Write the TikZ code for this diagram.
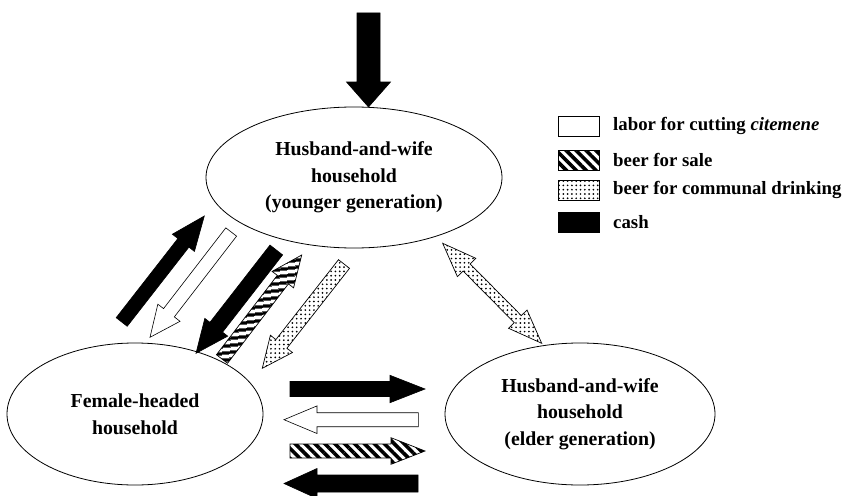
\documentclass[tikz,border=0pt]{standalone}
\usepackage{fontspec}
\setmainfont{Liberation Serif}
\usetikzlibrary{calc,shapes.geometric,patterns.meta}

% block arrow: #1 style, #2 tail, #3 tip, #4 shaft half width, #5 head half width, #6 head length
\newcommand\blockarr[6]{%
  \coordinate (#2#3m) at ($(#3)!#6!(#2)$);
  \path[#1] ($(#2)!#4!90:(#3)$) -- ($(#2#3m)!#4!90:(#3)$) -- ($(#2#3m)!#5!90:(#3)$) -- (#3)
    -- ($(#2#3m)!#5!-90:(#3)$) -- ($(#2#3m)!#4!-90:(#3)$) -- ($(#2)!#4!-90:(#3)$) -- cycle;}
% double block arrow
\newcommand\dblarr[6]{%
  \coordinate (#2#3m) at ($(#3)!#6!(#2)$);
  \coordinate (#2#3n) at ($(#2)!#6!(#3)$);
  \path[#1] (#2) -- ($(#2#3n)!#5!90:(#3)$) -- ($(#2#3n)!#4!90:(#3)$) -- ($(#2#3m)!#4!90:(#3)$)
    -- ($(#2#3m)!#5!90:(#3)$) -- (#3) -- ($(#2#3m)!#5!-90:(#3)$) -- ($(#2#3m)!#4!-90:(#3)$)
    -- ($(#2#3n)!#4!-90:(#3)$) -- ($(#2#3n)!#5!-90:(#3)$) -- cycle;}

\tikzset{
  house/.style={draw, ellipse, line width=0.8pt, inner sep=0pt, align=center,
    font=\fontsize{19.8}{26.5}\selectfont\bfseries},
  cash/.style={draw=black, fill=black, line width=0.6pt},
  labor/.style={draw=black, fill=white, line width=0.6pt},
  sale/.style={draw=black, line width=0.7pt, preaction={fill=white},
    pattern={Lines[angle=-45,distance=7pt,line width=3.6pt]}},
  salediag/.style={draw=black, line width=0.7pt, preaction={fill=white},
    pattern={Lines[angle=7.5,distance=6.5pt,line width=3.4pt]}},
  drink/.style={draw=black, line width=0.7pt, preaction={fill=white},
    pattern={Dots[distance=4.3pt,radius=0.95pt]}},
  legbox/.style={minimum width=41pt, minimum height=20pt, inner sep=0pt},
  legtext/.style={anchor=west, inner sep=0pt, font=\fontsize{18.8}{22}\selectfont\bfseries}
}

\begin{document}
\begin{tikzpicture}[x=1pt,y=-1pt]
\useasboundingbox (0,0) rectangle (845,495);
\fill[white] (0,0) rectangle (845,495);

% households
\node[house, minimum width=296pt, minimum height=141pt] (young) at (354,177.5)
  {Husband-and-wife\\household\\(younger generation)};
\node[house, minimum width=256pt, minimum height=142pt] (female) at (135,414)
  {Female-headed\\household};
\node[house, minimum width=270pt, minimum height=142pt] (elder) at (580,414)
  {Husband-and-wife\\household\\(elder generation)};

% arrow end points
\coordinate (t0) at (368.5,13);   \coordinate (t1) at (368.5,107);
\coordinate (a1t) at (121.7,322); \coordinate (a1h) at (204.3,216);
\coordinate (a2t) at (231.2,232); \coordinate (a2h) at (150,337.3);
\coordinate (a3t) at (276.3,250); \coordinate (a3h) at (196,353.3);
\coordinate (a4t) at (222,359);   \coordinate (a4h) at (301.7,255);
\coordinate (a5t) at (344,264);   \coordinate (a5h) at (262.3,368.3);
\coordinate (a6t) at (442.7,243.3); \coordinate (a6h) at (541.7,343.3);
\coordinate (h1t) at (290,389);   \coordinate (h1h) at (425,389);
\coordinate (h2t) at (418.3,419.7); \coordinate (h2h) at (284,419.7);
\coordinate (h3t) at (290,451);   \coordinate (h3h) at (425,451);
\coordinate (h4t) at (418,483.5); \coordinate (h4h) at (284,483.5);

% arrows
\blockarr{cash}{t0}{t1}{11.5pt}{22pt}{25pt}
\blockarr{cash}{a1t}{a1h}{7pt}{14pt}{34pt}
\blockarr{labor}{a2t}{a2h}{6.8pt}{14pt}{31pt}
\blockarr{cash}{a3t}{a3h}{8pt}{14.5pt}{33pt}
\blockarr{salediag}{a4t}{a4h}{7pt}{13.5pt}{31pt}
\blockarr{drink}{a5t}{a5h}{7pt}{14pt}{31pt}
\dblarr{drink}{a6t}{a6h}{5pt}{13pt}{34pt}
\blockarr{cash}{h1t}{h1h}{7.5pt}{13.7pt}{35pt}
\blockarr{labor}{h2t}{h2h}{7pt}{13.8pt}{33pt}
\blockarr{sale}{h3t}{h3h}{7pt}{13.3pt}{34pt}
\blockarr{cash}{h4t}{h4h}{8.5pt}{15pt}{33pt}

% legend
\node[legbox, labor] (k1) at (578.5,126) {};
\node[legbox, sale]  (k2) at (578.5,160) {};
\node[legbox, drink] (k3) at (578.5,190) {};
\node[legbox, cash]  (k4) at (578.5,222.5) {};
\node[legtext] (l1) at (613,126) {labor for cutting \textit{citemene}};
\node[legtext] (l2) at (613,160) {beer for sale};
\node[legtext] (l3) at (613,190) {beer for communal drinking};
\node[legtext] (l4) at (613,222.5) {cash};
\end{tikzpicture}
\end{document}
